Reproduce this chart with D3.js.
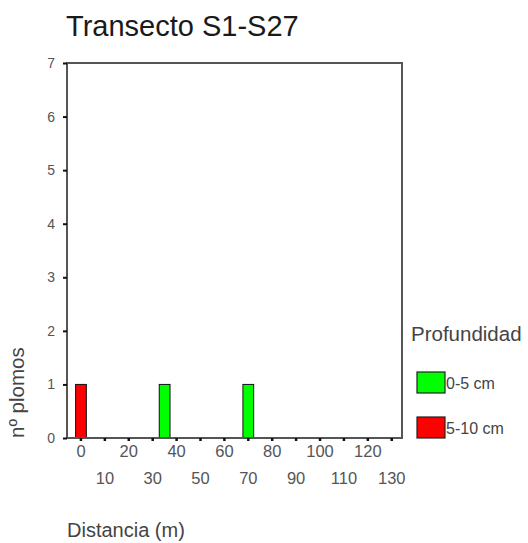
<!DOCTYPE html>
<html>
<head>
<meta charset="utf-8">
<script src="https://cdn.jsdelivr.net/npm/d3@7/dist/d3.min.js"></script>
<style>
  html, body { margin: 0; padding: 0; background: #fff; }
  svg { display: block; font-family: "Liberation Sans", Arial, sans-serif; }
</style>
</head>
<body>
<svg id="chart" width="528" height="543"></svg>
<script>
// Sampling points along the transect (m)
const distancias = ["0", "5", "10", "15", "20", "25", "30", "35", "40", "45", "50", "55", "60", "65",
                    "70", "75", "80", "85", "90", "95", "100", "105", "110", "115", "120", "125", "130"];
// Number of lead pellets per depth layer
const prof0_5  = [0, 0, 0, 0, 0, 0, 0, 1, 0, 0, 0, 0, 0, 0, 1, 0, 0, 0, 0, 0, 0, 0, 0, 0, 0, 0, 0];
const prof5_10 = [1, 0, 0, 0, 0, 0, 0, 0, 0, 0, 0, 0, 0, 0, 0, 0, 0, 0, 0, 0, 0, 0, 0, 0, 0, 0, 0];
const seriesNames = ["0-5 cm", "5-10 cm"];
const seriesColors = ["#00ff00", "#ff0000"];
const xTickLabels = ["0", "10", "20", "30", "40", "50", "60", "70", "80", "90", "100", "110", "120", "130"];
const yTicks = [0, 1, 2, 3, 4, 5, 6, 7];

const svg = d3.select("#chart");
const frame = { left: 67, right: 402, top: 63, bottom: 438 };

const table = distancias.map((d, i) => ({ dist: d, "0-5 cm": prof0_5[i], "5-10 cm": prof5_10[i] }));
const stacked = d3.stack().keys(seriesNames)(table);

const x = d3.scaleBand().domain(distancias).range([75, 397.7]).paddingInner(0.1).paddingOuter(0.05);
const y = d3.scaleLinear().domain([0, 7]).range([frame.bottom, frame.top]);
const color = d3.scaleOrdinal().domain(seriesNames).range(seriesColors);

// Title
svg.append("text")
  .attr("x", 66).attr("y", 36)
  .attr("font-size", 29).attr("fill", "#1a1a1a")
  .text("Transecto S1-S27");

// Bars
svg.append("g").selectAll("g").data(stacked).join("g")
  .attr("fill", d => color(d.key))
  .selectAll("rect").data(d => d.filter(p => p[1] - p[0] > 0)).join("rect")
  .attr("x", d => x(d.data.dist))
  .attr("width", x.bandwidth())
  .attr("y", d => y(d[1]))
  .attr("height", d => y(d[0]) - y(d[1]))
  .attr("stroke", "#111").attr("stroke-width", 1);

// Plot frame
svg.append("rect")
  .attr("x", frame.left).attr("y", frame.top)
  .attr("width", frame.right - frame.left).attr("height", frame.bottom - frame.top)
  .attr("fill", "none").attr("stroke", "#555").attr("stroke-width", 2);

// Y axis
const yAxis = svg.append("g")
  .attr("transform", `translate(${frame.left},0)`)
  .call(d3.axisLeft(y).tickValues(yTicks).tickFormat(d3.format("d")).tickSize(4).tickPadding(8));
yAxis.select(".domain").remove();
yAxis.selectAll(".tick line").attr("stroke", "#111").attr("stroke-width", 2);
yAxis.selectAll(".tick text").attr("font-size", 14).attr("fill", "#555")
  .attr("font-family", "Liberation Sans, Arial, sans-serif");

// X axis: labels every 10 m, staggered on two rows
const xAxis = svg.append("g")
  .attr("transform", `translate(0,${frame.bottom})`)
  .call(d3.axisBottom(x).tickValues(xTickLabels).tickSize(3).tickPadding(4));
xAxis.select(".domain").remove();
xAxis.selectAll(".tick line").attr("stroke", "#111").attr("stroke-width", 2.5);
xAxis.selectAll(".tick text")
  .attr("font-size", 16.5).attr("fill", "#555")
  .attr("font-family", "Liberation Sans, Arial, sans-serif")
  .attr("dy", (d, i) => i % 2 === 0 ? "0.71em" : "2.35em");

// Axis titles
svg.append("text")
  .attr("x", 67).attr("y", 537)
  .attr("font-size", 20).attr("fill", "#444")
  .text("Distancia (m)");

svg.append("text")
  .attr("transform", "translate(24,438) rotate(-90)")
  .attr("font-size", 20.5).attr("fill", "#444")
  .text("nº plomos");

// Legend
const legend = svg.append("g");
legend.append("text")
  .attr("x", 411).attr("y", 341)
  .attr("font-size", 20.5).attr("fill", "#444")
  .text("Profundidad");
const items = legend.selectAll("g.item").data(seriesNames).join("g")
  .attr("class", "item")
  .attr("transform", (d, i) => `translate(417,${372 + i * 45})`);
items.append("rect")
  .attr("width", 28).attr("height", 21)
  .attr("fill", d => color(d))
  .attr("stroke", "#222").attr("stroke-width", 1.2);
items.append("text")
  .attr("x", 29).attr("y", 17)
  .attr("font-size", 16).attr("fill", "#444")
  .text(d => d);
</script>
</body>
</html>
